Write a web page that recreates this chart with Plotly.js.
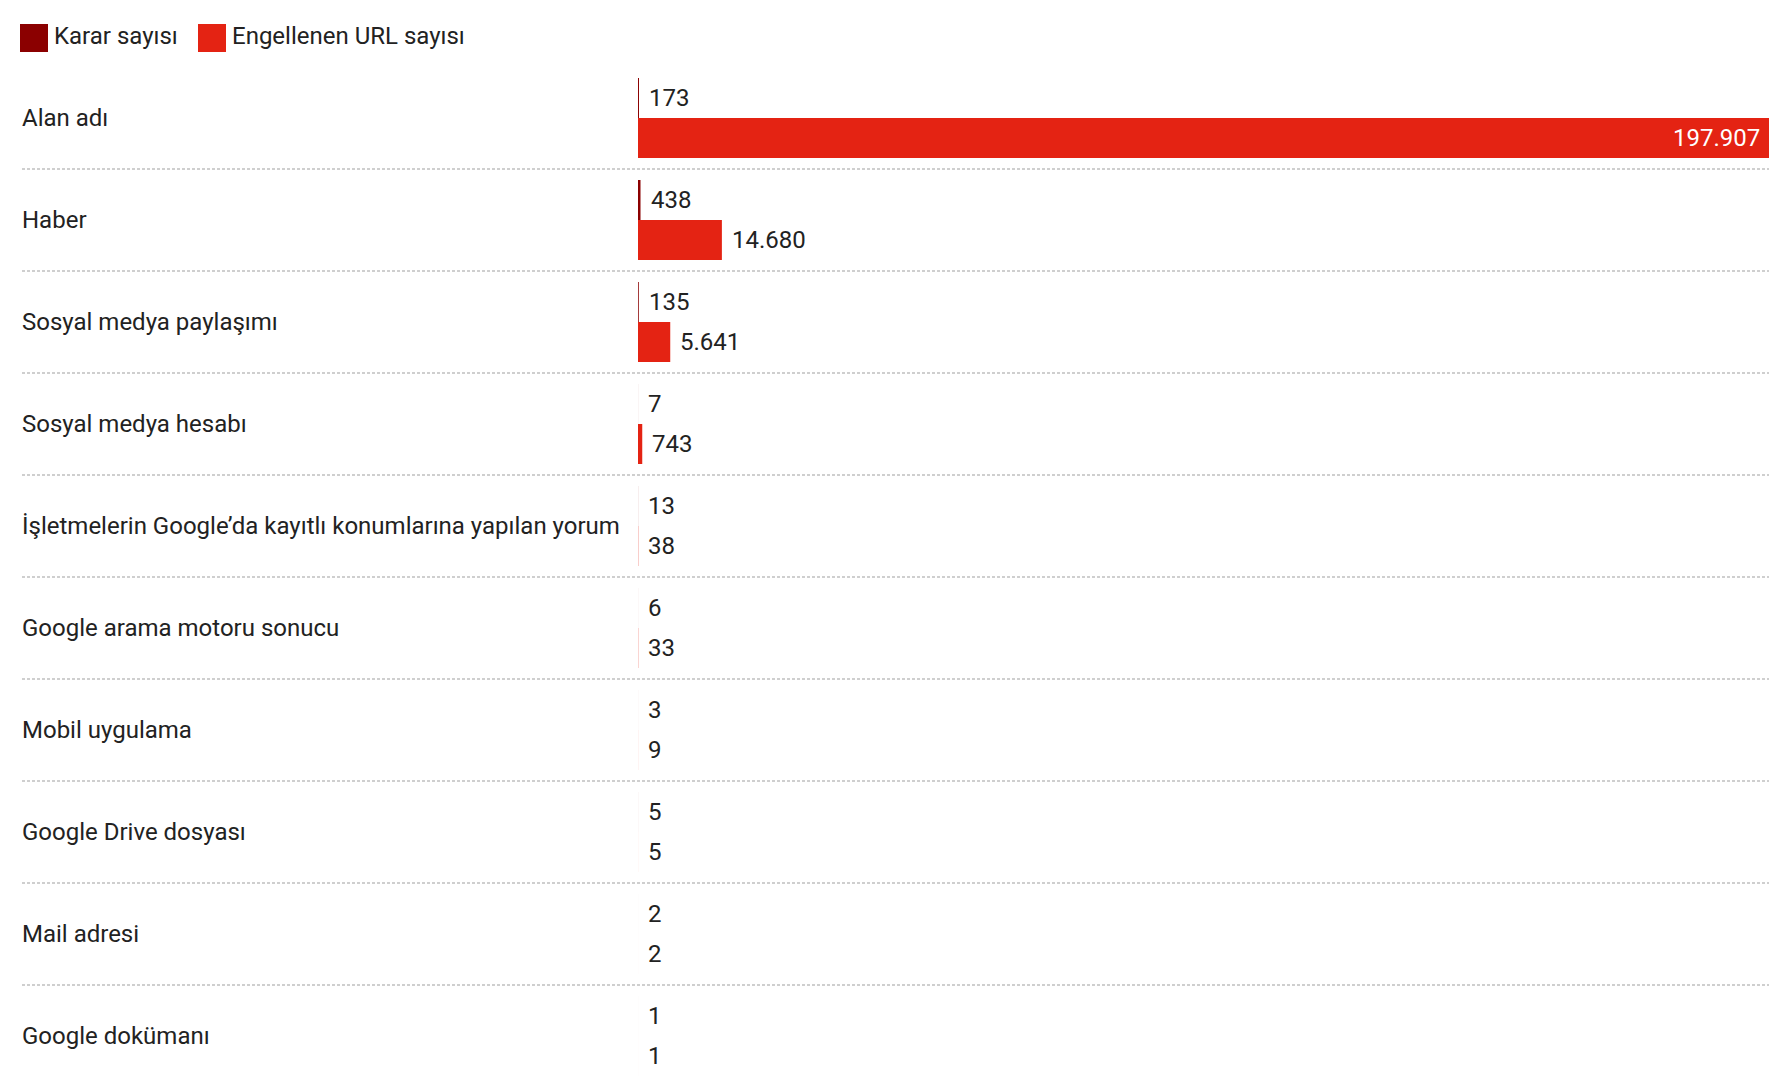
<!DOCTYPE html>
<html>
<head>
<meta charset="utf-8">
<script src="https://cdn.plot.ly/plotly-3.0.1.min.js"></script>
<style>
  html, body { margin: 0; padding: 0; background: #fff; }
  #chart { width: 1792px; height: 1082px; }
</style>
</head>
<body>
<div id="chart"></div>
<script>
// ---- data ----
const categories = [
  "Alan adı",
  "Haber",
  "Sosyal medya paylaşımı",
  "Sosyal medya hesabı",
  "İşletmelerin Google’da kayıtlı konumlarına yapılan yorum",
  "Google arama motoru sonucu",
  "Mobil uygulama",
  "Google Drive dosyası",
  "Mail adresi",
  "Google dokümanı"
];
const kararSayisi = [173, 438, 135, 7, 13, 6, 3, 5, 2, 1];
const engellenenUrl = [197907, 14680, 5641, 743, 38, 33, 9, 5, 2, 1];
const seriesNames = ["Karar sayısı", "Engellenen URL sayısı"];
const seriesColors = ["#8b0000", "#e42313"];

// ---- layout constants ----
const W = 1792, H = 1082;
const M = { l: 22, r: 23, t: 67, b: 0 };
const plotW = W - M.l - M.r, plotH = H - M.t - M.b;
const plotLeftPx = 638;
const rowPx = 102;
const FONT = "Roboto, 'Noto Sans', sans-serif";
const TEXT = "#222";
const FS = 24;

const px = p => (p - M.l) / plotW;          // pixel -> paper x
const py = p => (H - M.b - p) / plotH;      // pixel -> paper y

function fmt(n) {
  return String(n).replace(/\B(?=(\d{3})+(?!\d))/g, ".");
}

const idx = categories.map((_, i) => i);
const seriesValues = [kararSayisi, engellenenUrl];

const traces = seriesValues.map((vals, s) => ({
  type: "bar",
  orientation: "h",
  name: seriesNames[s],
  x: vals,
  y: idx,
  marker: { color: seriesColors[s], line: { width: 0 } },
  hoverinfo: "skip",
  showlegend: false
}));

const maxVal = Math.max(...engellenenUrl);
const annotations = [];
// category labels
categories.forEach((c, i) => {
  annotations.push({
    xref: "paper", yref: "y", x: 0, y: i, xanchor: "left", yanchor: "middle",
    xshift: -2,
    text: c, showarrow: false, font: { family: FONT, size: FS, color: TEXT }
  });
});
// value labels
const nRows = categories.length;
const visibleRows = plotH / rowPx;
const bargap = 22 / rowPx;
const halfBar = (1 - bargap) / 4;
seriesValues.forEach((vals, s) => {
  const off = (s === 0 ? -1 : 1) * halfBar;
  vals.forEach((v, i) => {
    const inside = v / maxVal > 0.8;
    annotations.push({
      xref: "x", yref: "y", x: v, y: i + off,
      xanchor: inside ? "right" : "left", yanchor: "middle",
      xshift: inside ? -7 : 8,
      text: fmt(v), showarrow: false,
      font: { family: FONT, size: FS, color: inside ? "#fff" : TEXT }
    });
  });
});

// legend (drawn)
const shapes = [];
const legendItems = [
  { x0: 20, textX: 52 },
  { x0: 198, textX: 230 }
];
legendItems.forEach((it, s) => {
  shapes.push({
    type: "rect", xref: "paper", yref: "paper",
    x0: px(it.x0), x1: px(it.x0 + 28), y0: py(52), y1: py(24),
    fillcolor: seriesColors[s], line: { width: 0 }
  });
  annotations.push({
    xref: "paper", yref: "paper", x: px(it.textX), y: py(36),
    xanchor: "left", yanchor: "middle", text: seriesNames[s], showarrow: false,
    font: { family: FONT, size: FS, color: TEXT }
  });
});

// row separators
for (let i = 0; i < nRows - 1; i++) {
  shapes.push({
    type: "line", xref: "paper", yref: "y",
    x0: 0, x1: 1, y0: i + 0.5, y1: i + 0.5,
    line: { color: "#cfcfcf", width: 2, dash: "3px,2px" }
  });
}

const layout = {
  width: W, height: H,
  margin: M,
  paper_bgcolor: "#fff", plot_bgcolor: "#fff",
  font: { family: FONT, size: FS, color: TEXT },
  barmode: "group",
  bargap: bargap,
  bargroupgap: 0,
  showlegend: false,
  xaxis: {
    domain: [px(plotLeftPx), 1],
    range: [0, maxVal],
    showgrid: false, zeroline: false, showline: false,
    showticklabels: false, ticks: "", fixedrange: true
  },
  yaxis: {
    type: "linear",
    range: [-0.5 + visibleRows, -0.5],
    showgrid: false, zeroline: false, showline: false,
    showticklabels: false, ticks: "", fixedrange: true
  },
  annotations: annotations,
  shapes: shapes
};

Plotly.newPlot("chart", traces, layout, { displayModeBar: false, staticPlot: true });
</script>
</body>
</html>
